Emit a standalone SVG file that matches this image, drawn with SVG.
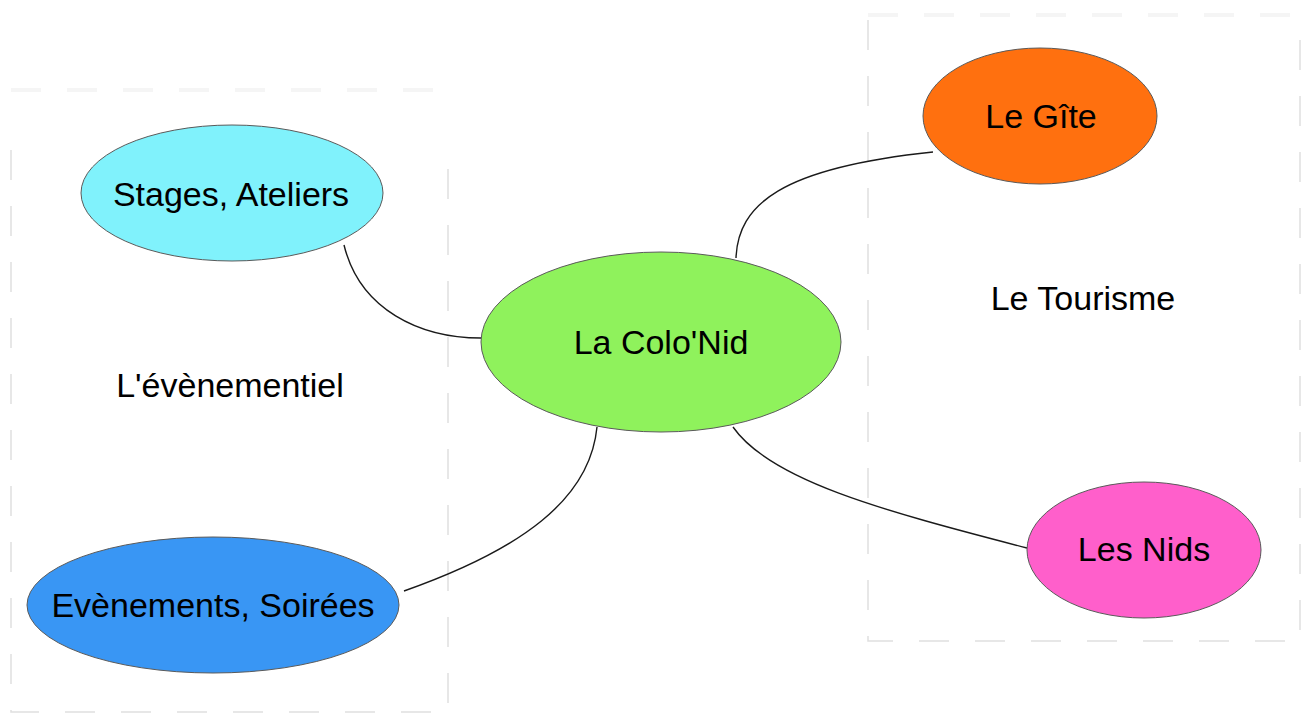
<svg xmlns="http://www.w3.org/2000/svg" width="1303" height="716" viewBox="0 0 1303 716">
  <style>
    .frame { fill: none; stroke: #e0e0e0; stroke-width: 1.5; stroke-dasharray: 30 26; }
    .frame-top { fill: none; stroke: #f5f5f5; stroke-width: 4; stroke-dasharray: 30 26; }
    .node { stroke: #5a5a5a; stroke-width: 1; }
    .label { font-family: "Liberation Sans", Arial, sans-serif; font-size: 34px; fill: #000; text-anchor: middle; }
    .link { fill: none; stroke: #1a1a1a; stroke-width: 1.4; }
  </style>
  <rect width="1303" height="716" fill="#ffffff"/>

  <!-- group frames -->
  <g id="frames">
    <path class="frame" d="M11,150 V712 H448 V150"/>
    <path class="frame-top" d="M11,90 H448"/>
    <path class="frame" d="M868,20 V641 H1300 V20"/>
    <path class="frame-top" d="M868,15 H1300"/>
  </g>

  <!-- group captions -->
  <g id="captions">
    <text class="label" x="230" y="397">L'évènementiel</text>
    <text class="label" x="1083" y="310">Le Tourisme</text>
  </g>

  <!-- connectors -->
  <g id="connectors">
    <path class="link" d="M344,245 C360,310 420,338 481,338"/>
    <path class="link" d="M736,258 C738,205 780,168 933,152"/>
    <path class="link" d="M597,427 C590,500 520,550 404,591"/>
    <path class="link" d="M733,427 C770,480 880,510 1027,548"/>
  </g>

  <g id="node-colonid">
    <ellipse class="node" cx="661" cy="342" rx="180" ry="90" fill="#8ff25c"/>
    <text class="label" x="661" y="354">La Colo'Nid</text>
  </g>

  <g id="node-stages">
    <ellipse class="node" cx="232" cy="193" rx="151" ry="68" fill="#80f2fc"/>
    <text class="label" x="231" y="206">Stages, Ateliers</text>
  </g>

  <g id="node-evenements">
    <ellipse class="node" cx="213" cy="605" rx="186" ry="68" fill="#3996f4"/>
    <text class="label" x="213" y="617">Evènements, Soirées</text>
  </g>

  <g id="node-gite">
    <ellipse class="node" cx="1040" cy="116" rx="117" ry="68" fill="#ff700f"/>
    <text class="label" x="1041" y="128">Le Gîte</text>
  </g>

  <g id="node-nids">
    <ellipse class="node" cx="1144" cy="550" rx="117" ry="68" fill="#ff5fcb"/>
    <text class="label" x="1144" y="561">Les Nids</text>
  </g>
</svg>
